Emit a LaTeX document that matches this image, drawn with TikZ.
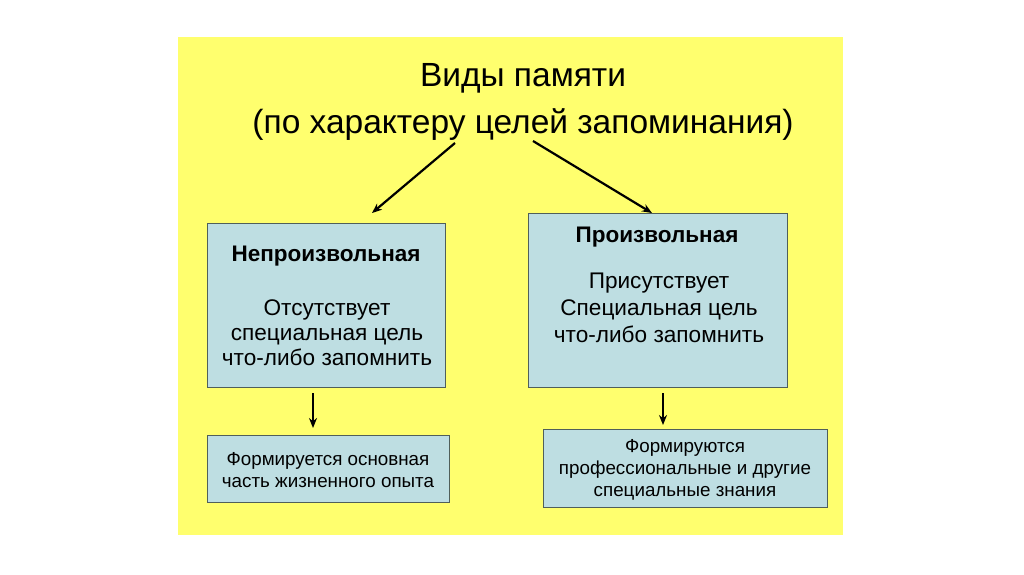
\documentclass[tikz,border=0pt]{standalone}
\usepackage{fontspec}
\setmainfont{Liberation Sans}
\usetikzlibrary{arrows.meta}
\definecolor{bgyellow}{RGB}{255,255,110}
\definecolor{boxblue}{RGB}{190,222,226}
\definecolor{boxline}{RGB}{80,95,90}
\tikzset{
  blockbox/.style={draw=boxline, line width=0.8pt, fill=boxblue, inner sep=0pt},
  arr/.style={-{Stealth[length=10pt,width=8pt]}, line width=2.2pt, black},
}
\begin{document}
\begin{tikzpicture}[x=1pt,y=-1pt]
\useasboundingbox (0,0) rectangle (1024,574);
\fill[white] (0,0) rectangle (1024,574);
\fill[bgyellow] (178,37) rectangle (843,535);
\node (t1) at (523,78) {\fontsize{33.5}{38}\selectfont Виды памяти};
\node (t2) at (523,125) {\fontsize{33.5}{38}\selectfont (по характеру целей запоминания)};
\coordinate (ls) at (455,143);
\coordinate (rs) at (533,141);
\node[blockbox, minimum width=238pt, minimum height=164pt] (b1) at (326,305) {};
\node[blockbox, minimum width=259pt, minimum height=174pt] (b2) at (657.5,300) {};
\node[blockbox, minimum width=242pt, minimum height=67pt] (b3) at (328,468.5) {};
\node[blockbox, minimum width=284pt, minimum height=78pt] (b4) at (685,468) {};
\node[font=\fontsize{22.5}{26}\selectfont\bfseries] (h1) at (326,256) {Непроизвольная};
\node[align=center, font=\fontsize{22.6}{25}\selectfont] (x1) at (327,333) {Отсутствует\\специальная цель\\что-либо запомнить};
\node[font=\fontsize{22.5}{26}\selectfont\bfseries] (h2) at (657,237) {Произвольная};
\node[align=center, font=\fontsize{22.6}{27}\selectfont] (x2) at (659,308) {Присутствует\\Специальная цель\\что-либо запомнить};
\node[align=center, font=\fontsize{18.8}{22.5}\selectfont] (x3) at (328,470) {Формируется основная\\часть жизненного опыта};
\node[align=center, font=\fontsize{18.8}{22}\selectfont] (x4) at (685,470) {Формируются\\профессиональные и другие\\специальные знания};
\draw[arr] (ls) -- (372,213);
\draw[arr] (rs) -- (652,213);
\draw[arr] (313,393) -- (313,428);
\draw[arr] (663,393) -- (663,425);
\end{tikzpicture}
\end{document}
